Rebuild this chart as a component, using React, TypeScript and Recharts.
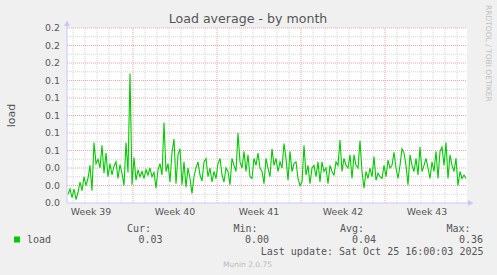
import React from 'react';
import { LineChart, Line, XAxis, YAxis, ReferenceLine, CartesianGrid } from 'recharts';

// load average, one value per 4 hours
const loadValues = [
  0.010, 0.016, 0.006, 0.016, 0.004, 0.012, 0.024, 0.014, 0.030, 0.020,
  0.028, 0.043, 0.014, 0.069, 0.045, 0.050, 0.040, 0.066, 0.034, 0.057,
  0.030, 0.045, 0.032, 0.042, 0.047, 0.028, 0.044, 0.034, 0.020, 0.069,
  0.035, 0.148, 0.021, 0.052, 0.026, 0.038, 0.030, 0.036, 0.028, 0.038,
  0.032, 0.040, 0.030, 0.035, 0.017, 0.038, 0.045, 0.032, 0.092, 0.036,
  0.045, 0.024, 0.058, 0.073, 0.022, 0.055, 0.062, 0.021, 0.047, 0.018,
  0.040, 0.028, 0.011, 0.030, 0.040, 0.047, 0.032, 0.025, 0.047, 0.051,
  0.030, 0.040, 0.024, 0.036, 0.028, 0.045, 0.051, 0.032, 0.024, 0.040,
  0.036, 0.021, 0.051, 0.043, 0.036, 0.080, 0.047, 0.040, 0.059, 0.036,
  0.055, 0.030, 0.028, 0.051, 0.043, 0.057, 0.040, 0.036, 0.022, 0.051,
  0.040, 0.030, 0.062, 0.043, 0.051, 0.036, 0.047, 0.040, 0.068, 0.051,
  0.026, 0.059, 0.036, 0.045, 0.047, 0.028, 0.020, 0.024, 0.066, 0.032,
  0.043, 0.022, 0.040, 0.043, 0.030, 0.047, 0.024, 0.047, 0.036, 0.040,
  0.022, 0.043, 0.036, 0.032, 0.047, 0.043, 0.072, 0.036, 0.051, 0.043,
  0.040, 0.055, 0.028, 0.055, 0.043, 0.040, 0.071, 0.036, 0.017, 0.036,
  0.028, 0.040, 0.030, 0.053, 0.026, 0.034, 0.030, 0.028, 0.043, 0.030,
  0.049, 0.040, 0.043, 0.058, 0.040, 0.028, 0.043, 0.062, 0.057, 0.043,
  0.021, 0.055, 0.043, 0.036, 0.051, 0.032, 0.064, 0.036, 0.043, 0.051,
  0.040, 0.028, 0.047, 0.036, 0.059, 0.028, 0.059, 0.064, 0.043, 0.069,
  0.028, 0.055, 0.043, 0.036, 0.051, 0.020, 0.036, 0.028, 0.032, 0.028,
];

const HOURS_PER_POINT = 4;
const TOTAL_HOURS = 800;

const yTicks = [0, 0.02, 0.04, 0.06, 0.08, 0.1, 0.12, 0.14, 0.16, 0.18, 0.2];
const yMinorTicks = [0.01, 0.03, 0.05, 0.07, 0.09, 0.11, 0.13, 0.15, 0.17, 0.19];

// hours from graph start
const weekBoundaries = [132, 300, 468, 636];
const weekLabelPositions = [48, 216, 384, 552, 720];
const weekLabels = ['Week 39', 'Week 40', 'Week 41', 'Week 42', 'Week 43'];

const legendHeaders = ['Cur:', 'Min:', 'Avg:', 'Max:'];
const legendValues = ['0.03', '0.00', '0.04', '0.36'];
const seriesName = 'load';
const lastUpdate = 'Last update: Sat Oct 25 16:00:03 2025';
const title = 'Load average - by month';
const yLabel = 'load';
const sideCredit = 'RRDTOOL / TOBI OETIKER';
const footer = 'Munin 2.0.75';

const chartData = loadValues.map((v, i) => ({
  t: i * HOURS_PER_POINT + HOURS_PER_POINT / 2,
  load: v,
}));

const dayLines = Array.from({ length: 33 }, (_, k) => 12 + 24 * k).filter(
  (h) => h < TOTAL_HOURS && !weekBoundaries.includes(h)
);

const GREEN = '#00cc00';
const TEXT = '#555555';
const AXIS = '#c8c8f8';
const MINOR = '#d4d4d4';
const MAJOR = '#eaa6a6';
const SANS = '"DejaVu Sans", sans-serif';
const MONO = '"DejaVu Sans Mono", monospace';

const legendHeaderX = [127, 233.5, 340, 446.5];
const legendValueX = [138.5, 245, 352, 459];

export default function App() {
  return (
    <div style={{ position: 'absolute', left: 0, top: 0, width: 497, height: 275, background: '#f0f0f0', overflow: 'hidden' }}>
      <LineChart
        width={497}
        height={275}
        data={chartData}
        margin={{ top: 28, right: 30, bottom: 42, left: 0 }}
      >
        <CartesianGrid horizontal={false} vertical={false} fill="#ffffff" fillOpacity={1} stroke="none" />
        {dayLines.map((h) => (
          <ReferenceLine key={'d' + h} x={h} stroke={MINOR} strokeDasharray="1 1" strokeWidth={1} />
        ))}
        {yMinorTicks.map((v) => (
          <ReferenceLine key={'m' + v} y={v} stroke={MINOR} strokeDasharray="1 1" strokeWidth={1} />
        ))}
        {weekBoundaries.map((h) => (
          <ReferenceLine key={'w' + h} x={h} stroke={MAJOR} strokeDasharray="1 1" strokeWidth={1} />
        ))}
        {yTicks.filter((v) => v > 0).map((v) => (
          <ReferenceLine key={'M' + v} y={v} stroke={MAJOR} strokeDasharray="1 1" strokeWidth={1} />
        ))}
        <XAxis
          dataKey="t"
          type="number"
          domain={[0, TOTAL_HOURS]}
          ticks={weekLabelPositions}
          interval={0}
          tickFormatter={(v: number) => weekLabels[weekLabelPositions.indexOf(v)] ?? ''}
          tickLine={false}
          tickSize={3}
          tickMargin={2}
          height={30}
          axisLine={{ stroke: AXIS }}
          tick={{ fill: TEXT, fontSize: 9.4, fontFamily: SANS }}
        />
        <YAxis
          type="number"
          domain={[0, 0.2]}
          ticks={yTicks}
          interval={0}
          tickFormatter={(v: number) => v.toFixed(1)}
          width={67}
          tickLine={false}
          tickSize={4}
          tickMargin={3}
          axisLine={{ stroke: AXIS }}
          tick={{ fill: TEXT, fontSize: 9.4, fontFamily: SANS }}
        />
        <Line
          type="linear"
          dataKey="load"
          stroke={GREEN}
          strokeWidth={1.1}
          dot={false}
          activeDot={false}
          isAnimationActive={false}
        />
      </LineChart>
      <svg width={497} height={275} style={{ position: 'absolute', left: 0, top: 0, pointerEvents: 'none' }}>
        {/* axis extensions and arrows */}
        <line x1={67} y1={28} x2={67} y2={24} stroke={AXIS} />
        <polygon points="67,20.5 64,26 70,26" fill={AXIS} />
        <line x1={467} y1={203} x2={470} y2={203} stroke={AXIS} />
        <polygon points="473.5,203 468,200 468,206" fill={AXIS} />

        <text x={248} y={22.5} textAnchor="middle" fontFamily={SANS} fontSize={12.6} fill={TEXT}>
          {title}
        </text>
        <text
          x={14.5}
          y={115.5}
          transform="rotate(-90 14.5 115.5)"
          textAnchor="middle"
          fontFamily={SANS}
          fontSize={11}
          fill={TEXT}
        >
          {yLabel}
        </text>
        <text
          x={485.5}
          y={5}
          transform="rotate(90 485.5 5)"
          textAnchor="start"
          fontFamily={SANS}
          fontSize={7.5}
          fill="#c0c0c0"
        >
          {sideCredit}
        </text>

        {legendHeaders.map((h, i) => (
          <text key={h} x={legendHeaderX[i]} y={231.5} fontFamily={MONO} fontSize={10} fill={TEXT}>
            {h}
          </text>
        ))}
        <rect x={14} y={236.5} width={6} height={6} fill={GREEN} />
        <text x={27} y={243} fontFamily={MONO} fontSize={10} fill={TEXT}>
          {seriesName}
        </text>
        {legendValues.map((v, i) => (
          <text key={'v' + i} x={legendValueX[i]} y={243} fontFamily={MONO} fontSize={10} fill={TEXT}>
            {v}
          </text>
        ))}
        <text x={483.5} y={254.5} textAnchor="end" fontFamily={MONO} fontSize={10} fill={TEXT}>
          {lastUpdate}
        </text>
        <text x={247.5} y={267} textAnchor="middle" fontFamily={SANS} fontSize={7.5} fill="#bbbbbb">
          {footer}
        </text>
      </svg>
    </div>
  );
}
